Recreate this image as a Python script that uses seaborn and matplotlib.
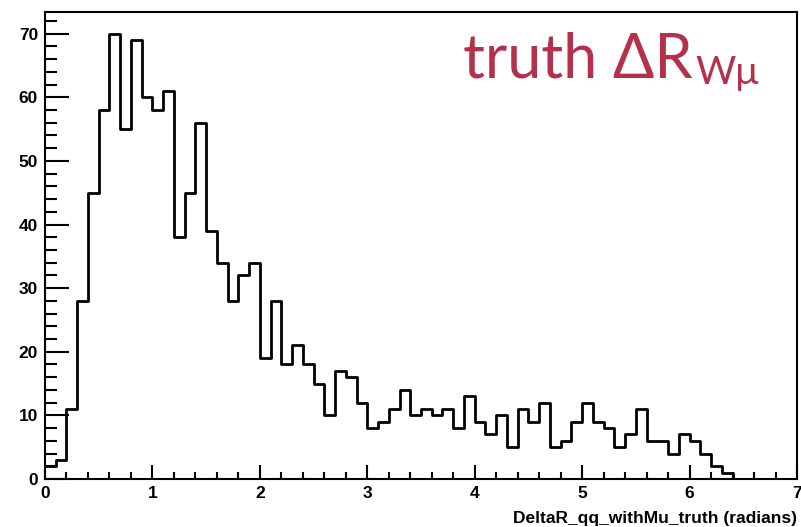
import numpy as np
import pandas as pd
import matplotlib
matplotlib.use("Agg")
import matplotlib.pyplot as plt
from matplotlib.ticker import MultipleLocator
import seaborn as sns

# ---- data ----
bin_width = 0.1
n_bins = 70
counts = [2, 3, 11, 28, 45, 58, 70, 55, 69, 60,
          58, 61, 38, 45, 56, 39, 34, 28, 32, 34,
          19, 28, 18, 21, 18, 15, 10, 17, 16, 12,
          8, 9, 11, 14, 10, 11, 10, 11, 8, 13,
          9, 7, 10, 5, 11, 9, 12, 5, 6, 9,
          12, 9, 8, 5, 7, 11, 6, 6, 4, 7,
          6, 4, 2, 1, 0, 0, 0, 0, 0, 0]
x_ticks = [0, 1, 2, 3, 4, 5, 6, 7]
y_ticks = [0, 10, 20, 30, 40, 50, 60, 70]
x_label = "DeltaR_qq_withMu_truth (radians)"

centers = (np.arange(n_bins) + 0.5) * bin_width
df = pd.DataFrame({"dr": centers, "n": counts})

sns.set_style("white")
plt.rcParams["font.family"] = ["Liberation Sans", "DejaVu Sans"]

fig = plt.figure(figsize=(8.01, 5.27), dpi=100)
ax = fig.add_axes([45 / 801, 1 - 479 / 527, (797 - 45) / 801, (479 - 12) / 527])

sns.histplot(data=df, x="dr", weights="n", binwidth=bin_width,
             binrange=(0, n_bins * bin_width), element="step",
             fill=False, color="black", linewidth=2.0, ax=ax)

ax.set_xlim(0, 7)
ax.set_ylim(0, 73.4)
ax.set_xticks(x_ticks)
ax.set_yticks(y_ticks)
ax.xaxis.set_minor_locator(MultipleLocator(0.2))
ax.yaxis.set_minor_locator(MultipleLocator(2))
ax.tick_params(which="both", bottom=True, left=True, top=False, right=False,
               color="black", labelcolor="black")
ax.tick_params(axis="x", which="major", direction="in", length=10, width=1.5, pad=5)
ax.tick_params(axis="x", which="minor", direction="in", length=5, width=1.5)
ax.tick_params(axis="y", which="major", direction="in", length=17, width=1.5, pad=5)
ax.tick_params(axis="y", which="minor", direction="in", length=8.5, width=1.5)
for lab in ax.get_xticklabels() + ax.get_yticklabels():
    lab.set_fontweight("bold")
    lab.set_fontsize(12.5)
ax.set_xlabel("")
ax.set_ylabel("")
for s in ax.spines.values():
    s.set_visible(True)
    s.set_linewidth(1.5)
    s.set_color("black")

fig.text(797 / 801, 1 - 523 / 527, x_label, ha="right", va="baseline",
         fontsize=12.5, fontweight="bold", color="black")

title_color = "#b5304a"
t1 = fig.text(463 / 801, 1 - 77 / 527, "truth ΔR", ha="left", va="baseline",
              fontsize=44, color=title_color,
              family=["Lato", "Open Sans", "DejaVu Sans"])
ax.annotate("Wμ", xy=(1, 0), xycoords=t1, xytext=(2, -2), textcoords="offset points",
            ha="left", va="bottom", fontsize=28, color=title_color,
            family=["Lato", "Open Sans", "DejaVu Sans"], annotation_clip=False)

fig.savefig("out.png", dpi=100)
